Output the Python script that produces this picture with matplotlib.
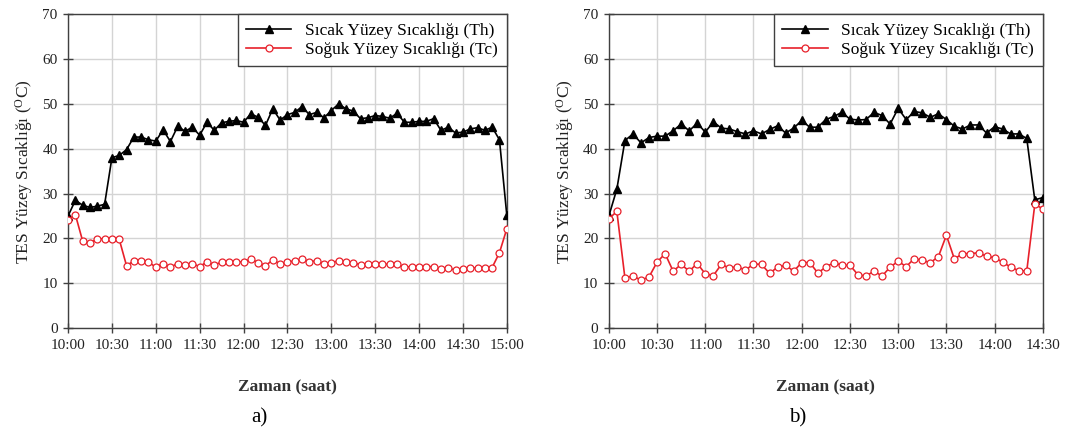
import matplotlib.pyplot as plt
import numpy as np

# surface temperatures, one reading every 5 min starting 10:00
th_a = [25.0, 28.5, 27.4, 26.9, 27.2, 27.6, 38.0, 38.5, 39.8, 42.6,
        42.6, 42.0, 41.7, 44.2, 41.6, 45.0, 43.9, 44.8, 43.0, 45.9,
        44.1, 45.8, 46.1, 46.3, 45.9, 47.8, 47.0, 45.2, 48.9, 46.4,
        47.6, 48.1, 49.4, 47.6, 48.1, 46.9, 48.5, 50.0, 48.9, 48.4,
        46.7, 46.9, 47.4, 47.2, 46.8, 47.9, 45.9, 45.9, 46.1, 46.1,
        46.7, 44.1, 44.8, 43.5, 43.7, 44.4, 44.7, 44.1, 44.8, 42.0,
        25.3]
tc_a = [24.2, 25.3, 19.4, 19.0, 19.9, 19.9, 19.9, 19.8, 13.9, 15.0,
        15.0, 14.7, 13.6, 14.4, 13.6, 14.4, 14.1, 14.4, 13.7, 14.8,
        14.1, 14.7, 14.7, 14.8, 14.7, 15.4, 14.6, 13.9, 15.2, 14.3,
        14.7, 15.0, 15.4, 14.8, 15.0, 14.4, 14.6, 15.0, 14.7, 14.6,
        14.1, 14.2, 14.2, 14.3, 14.2, 14.2, 13.6, 13.7, 13.7, 13.7,
        13.7, 13.1, 13.3, 13.0, 13.1, 13.3, 13.5, 13.3, 13.5, 16.8,
        22.1]
th_b = [25.0, 31.0, 41.8, 43.3, 41.3, 42.5, 42.8, 42.8, 44.0, 45.5,
        44.0, 45.7, 43.7, 46.0, 44.6, 44.4, 43.8, 43.3, 44.0, 43.3,
        44.3, 45.1, 43.5, 44.6, 46.3, 44.8, 44.8, 46.5, 47.2, 48.1,
        46.6, 46.4, 46.5, 48.1, 47.4, 45.5, 49.0, 46.5, 48.3, 48.0,
        47.0, 47.8, 46.5, 45.0, 44.4, 45.3, 45.3, 43.5, 44.9, 44.4,
        43.3, 43.3, 42.3, 28.6, 29.1]
tc_b = [24.4, 26.0, 11.2, 11.6, 10.7, 11.4, 14.7, 16.6, 12.7, 14.2,
        12.7, 14.4, 12.1, 11.7, 14.2, 13.4, 13.7, 12.9, 14.3, 14.2,
        12.2, 13.6, 14.0, 12.7, 14.6, 14.6, 12.3, 13.6, 14.6, 14.0,
        14.0, 11.9, 11.6, 12.7, 11.6, 13.6, 14.9, 13.7, 15.5, 15.1,
        14.6, 15.9, 20.7, 15.4, 16.6, 16.6, 16.8, 16.0, 15.7, 14.7,
        13.6, 12.8, 12.7, 27.6, 26.6]

step_min = 5
ticks_a = ['10:00', '10:30', '11:00', '11:30', '12:00', '12:30',
           '13:00', '13:30', '14:00', '14:30', '15:00']
ticks_b = ticks_a[:10]

label_th = 'Sıcak Yüzey Sıcaklığı (Th)'
label_tc = 'Soğuk Yüzey Sıcaklığı (Tc)'

plt.rcParams['font.family'] = ['Liberation Serif', 'DejaVu Serif']


def panel(ax, th, tc, ticks, tag):
    t = np.arange(len(th)) * step_min
    ax.plot(t, th, color='black', lw=1.2, marker='^', ms=5.5,
            mfc='black', mec='black', label=label_th, zorder=3)
    ax.plot(t, tc, color='#e8202a', lw=1.2, marker='o', ms=5,
            mfc='white', mec='#e8202a', mew=0.9, label=label_tc, zorder=3)

    xt = np.arange(len(ticks)) * 30
    ax.set_xticks(xt)
    ax.set_xticklabels(ticks)
    ax.set_xlim(0, xt[-1])
    ax.set_ylim(0, 70)
    ax.set_yticks(range(0, 71, 10))
    ax.grid(True, color='#d4d4d4', lw=1.0)
    ax.set_axisbelow(True)
    for s in ax.spines.values():
        s.set_color('#404040')
        s.set_linewidth(1.0)
    ax.tick_params(direction='inout', length=7, width=1, colors='#404040',
                   labelsize=11, labelcolor='#222222', pad=4)
    ax.set_xlabel('Zaman (saat)', fontsize=12.5, fontweight='bold',
                  color='#333333', labelpad=20)
    ax.set_ylabel('TES Yüzey Sıcaklığı ($\\mathregular{^OC}$)', fontsize=12.5,
                  color='#222222', labelpad=5)
    leg = ax.legend(loc='upper right', fontsize=12.5, frameon=True,
                    fancybox=False, edgecolor='#404040', borderaxespad=0,
                    handlelength=2.6, borderpad=0.5, labelspacing=0.15,
                    framealpha=1)
    leg.get_frame().set_linewidth(1.0)
    ax.text(0.435, -0.255, tag, transform=ax.transAxes, fontsize=15,
            ha='center', va='top')


fig = plt.figure(figsize=(10.7, 4.3), dpi=100)
ax_a = fig.add_axes([0.0636, 0.237, 0.410, 0.730])
ax_b = fig.add_axes([0.569, 0.237, 0.4056, 0.730])
panel(ax_a, th_a, tc_a, ticks_a, 'a)')
panel(ax_b, th_b, tc_b, ticks_b, 'b)')

fig.savefig('out.png', dpi=100)
